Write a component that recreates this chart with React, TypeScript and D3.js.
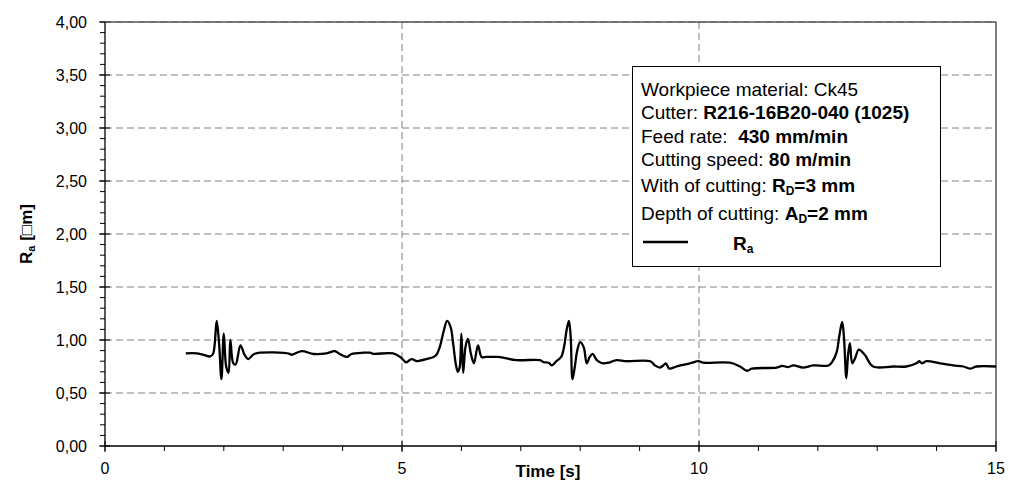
import React from 'react';
import * as d3 from 'd3';

const times = [1.36,1.54,1.66,1.77,1.82,1.88,1.92,1.96,2.00,2.04,2.08,2.11,2.16,2.20,2.28,2.35,2.41,2.52,3.11,3.14,3.31,3.51,3.73,3.87,3.95,4.07,4.15,4.35,4.46,4.52,4.85,4.97,5.07,5.16,5.25,5.30,5.41,5.53,5.58,5.64,5.70,5.76,5.82,5.86,5.91,5.94,5.97,6.00,6.03,6.07,6.11,6.16,6.21,6.28,6.34,6.42,6.62,6.93,7.32,7.39,7.47,7.52,7.60,7.68,7.73,7.77,7.81,7.84,7.87,7.91,7.95,8.00,8.06,8.11,8.16,8.21,8.28,8.38,8.50,8.61,8.78,9.18,9.26,9.34,9.40,9.44,9.50,9.62,9.85,9.99,10.07,10.52,10.69,10.81,10.89,11.31,11.40,11.50,11.59,11.75,11.92,12.18,12.25,12.32,12.36,12.41,12.44,12.48,12.51,12.54,12.58,12.63,12.69,12.79,12.93,13.27,13.49,13.66,13.71,13.75,13.83,14.06,14.28,14.45,14.56,14.67,15.00];
const raValues = [0.874,0.874,0.86,0.845,0.87,1.18,0.97,0.63,1.06,0.75,0.69,1.00,0.78,0.77,0.95,0.86,0.82,0.87,0.87,0.86,0.895,0.868,0.874,0.895,0.868,0.84,0.868,0.88,0.88,0.87,0.874,0.84,0.79,0.82,0.80,0.805,0.82,0.84,0.86,0.94,1.08,1.18,1.12,0.97,0.76,0.70,0.74,1.06,0.69,0.94,1.01,0.87,0.78,0.95,0.84,0.84,0.84,0.81,0.81,0.79,0.785,0.76,0.80,0.84,0.94,1.09,1.18,1.03,0.63,0.75,0.90,0.98,0.93,0.78,0.84,0.87,0.81,0.78,0.79,0.81,0.80,0.80,0.76,0.74,0.76,0.78,0.73,0.75,0.78,0.80,0.786,0.786,0.75,0.71,0.73,0.74,0.755,0.745,0.76,0.74,0.76,0.76,0.80,0.89,1.03,1.17,1.03,0.64,0.86,0.97,0.78,0.83,0.91,0.86,0.75,0.75,0.75,0.78,0.80,0.78,0.80,0.78,0.76,0.75,0.73,0.75,0.75];

const yTicks = [0, 0.5, 1, 1.5, 2, 2.5, 3, 3.5, 4];
const yTickLabels = ['0,00','0,50','1,00','1,50','2,00','2,50','3,00','3,50','4,00'];
const xTicks = [0, 5, 10, 15];
const xTickLabels = ['0', '5', '10', '15'];
const xGrid = [5, 10];

const FONT = "'Liberation Sans', Arial, Helvetica, sans-serif";

export default function App() {
  const W = 1009, H = 490;
  const left = 105, right = 996, top = 22, bottom = 446;
  const x = d3.scaleLinear().domain([0, 15]).range([left, right]);
  const y = d3.scaleLinear().domain([0, 4]).range([bottom, top]);
  const yMinor = d3.range(0, 4.0001, 0.1);
  const xMinor = d3.range(0, 15.0001, 1);
  const pts: [number, number][] = times.map((t, i) => [t, raValues[i]]);
  const line = d3.line<[number, number]>()
    .x(d => x(d[0])).y(d => y(d[1]))
    .curve(d3.curveCatmullRom.alpha(0.5));
  const dash = '7 4';
  const lfs = 19;
  const sfs = 12;
  const lx = 641;
  return (
    <svg width={W} height={H} style={{ position: 'absolute', left: 0, top: 0, background: '#fff' }} fontFamily={FONT}>
      <rect x={0} y={0} width={W} height={H} fill="#fff" />
      {yTicks.filter(v => v > 0).map(v => (
        <line key={'hg' + v} x1={left} x2={right} y1={y(v)} y2={y(v)} stroke="#808080" strokeWidth={1} strokeDasharray={dash} />
      ))}
      {xGrid.map(v => (
        <line key={'vg' + v} x1={x(v)} x2={x(v)} y1={top} y2={bottom} stroke="#808080" strokeWidth={1} strokeDasharray={dash} />
      ))}
      <line x1={right} x2={right} y1={top} y2={bottom} stroke="#000" strokeWidth={1} />
      {yMinor.map((v, i) => (
        <line key={'ym' + i} x1={left - 5} x2={left} y1={y(v)} y2={y(v)} stroke="#000" strokeWidth={1} />
      ))}
      {yTicks.map(v => (
        <line key={'yM' + v} x1={left - 6} x2={left + 5} y1={y(v)} y2={y(v)} stroke="#000" strokeWidth={1} />
      ))}
      {xMinor.map((v, i) => (
        <line key={'xm' + i} x1={x(v)} x2={x(v)} y1={bottom} y2={bottom + 5} stroke="#000" strokeWidth={1} />
      ))}
      {xTicks.map(v => (
        <line key={'xM' + v} x1={x(v)} x2={x(v)} y1={bottom - 5} y2={bottom + 6} stroke="#000" strokeWidth={1} />
      ))}
      <line x1={left} x2={left} y1={top} y2={bottom} stroke="#000" strokeWidth={1.3} />
      <line x1={left} x2={right} y1={bottom} y2={bottom} stroke="#000" strokeWidth={1.3} />
      {yTicks.map((v, i) => (
        <text key={'yl' + v} x={left - 18} y={y(v)} dy="0.35em" textAnchor="end" fontSize={16} fill="#000">{yTickLabels[i]}</text>
      ))}
      {xTicks.map((v, i) => (
        <text key={'xl' + v} x={x(v)} y={bottom + 28} textAnchor="middle" fontSize={16} fill="#000">{xTickLabels[i]}</text>
      ))}
      <text x={548} y={bottom + 31} textAnchor="middle" fontSize={17} fontWeight="bold" fill="#000">Time [s]</text>
      <text transform={`translate(32,${(top + bottom) / 2}) rotate(-90)`} textAnchor="middle" fontSize={17} fontWeight="bold" fill="#000">
        R<tspan fontSize={11} dy={3}>a</tspan><tspan dy={-3}> [□m]</tspan>
      </text>
      <path d={line(pts) || ''} fill="none" stroke="#000" strokeWidth={2.3} strokeLinejoin="round" />
      <rect x={632.5} y={66.5} width={308} height={200} fill="#fff" stroke="#000" strokeWidth={1} />
      <g fontSize={lfs} fill="#000">
        <text x={lx} y={96}>Workpiece material: Ck45</text>
        <text x={lx} y={119}>Cutter: <tspan fontWeight="bold">R216-16B20-040 (1025)</tspan></text>
        <text x={lx} y={143}>{'Feed rate:\u00a0 '}<tspan fontWeight="bold">430 mm/min</tspan></text>
        <text x={lx} y={166}>Cutting speed: <tspan fontWeight="bold">80 m/min</tspan></text>
        <text x={lx} y={192}>With of cutting: <tspan fontWeight="bold">R</tspan><tspan fontWeight="bold" fontSize={sfs} dy={3}>D</tspan><tspan fontWeight="bold" dy={-3}>=3 mm</tspan></text>
        <text x={lx} y={220}>Depth of cutting: <tspan fontWeight="bold">A</tspan><tspan fontWeight="bold" fontSize={sfs} dy={3}>D</tspan><tspan fontWeight="bold" dy={-3}>=2 mm</tspan></text>
        <text x={733} y={250} fontWeight="bold">R<tspan fontSize={sfs} dy={3}>a</tspan></text>
      </g>
      <line x1={643} x2={688} y1={242} y2={242} stroke="#000" strokeWidth={2.3} />
      <line x1={left} x2={right} y1={top} y2={top} stroke="#000" strokeWidth={1} />
      <line x1={left} x2={right} y1={top} y2={top} stroke="#808080" strokeWidth={1} strokeDasharray={dash} />
    </svg>
  );
}
